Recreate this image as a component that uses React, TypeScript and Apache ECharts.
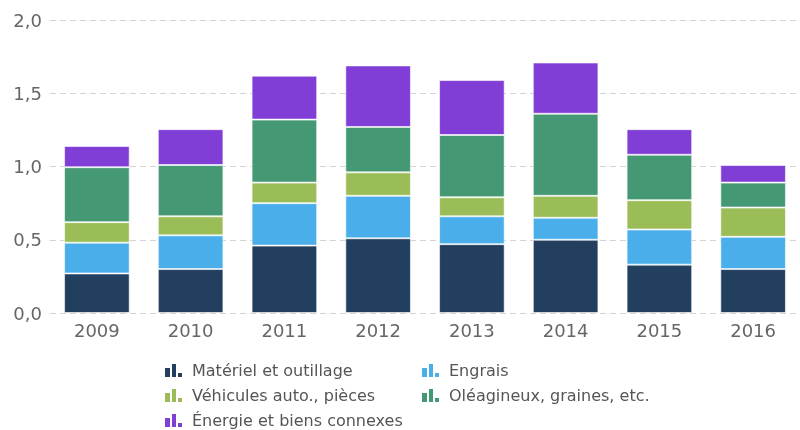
import React, { useEffect, useRef } from "react";
import * as echarts from "echarts";

const years = ["2009", "2010", "2011", "2012", "2013", "2014", "2015", "2016"];
const materiel = [0.27, 0.3, 0.46, 0.51, 0.47, 0.5, 0.33, 0.3];
const engrais = [0.21, 0.23, 0.29, 0.29, 0.19, 0.15, 0.24, 0.22];
const vehicules = [0.14, 0.13, 0.14, 0.16, 0.13, 0.15, 0.2, 0.2];
const oleagineux = [0.375, 0.35, 0.43, 0.31, 0.425, 0.56, 0.31, 0.17];
const energie = [0.145, 0.245, 0.3, 0.42, 0.375, 0.35, 0.175, 0.12];

const seriesNames = [
  "Matériel et outillage",
  "Engrais",
  "Véhicules auto., pièces",
  "Oléagineux, graines, etc.",
  "Énergie et biens connexes",
];
const seriesData = [materiel, engrais, vehicules, oleagineux, energie];
const colors = ["#233f5f", "#49aeea", "#9bbd57", "#449874", "#813ed6"];

const icon = "path://M0,4L5,4L5,13L0,13Z M7,0L11,0L11,13L7,13Z M13,9L17,9L17,13L13,13Z";
const FONT = "DejaVu Sans";

export default function App() {
  const ref = useRef<HTMLDivElement>(null);
  useEffect(() => {
    const chart = echarts.init(ref.current!, null, { renderer: "svg" });
    const legendCommon = {
      orient: "vertical" as const,
      top: 361,
      height: 69,
      itemWidth: 17,
      itemHeight: 13,
      itemGap: 6,
      icon,
      itemStyle: { borderWidth: 0, borderColor: "transparent" },
      textStyle: { fontFamily: FONT, fontSize: 16, color: "#555", padding: [0, 0, 0, 5], lineHeight: 19 },
      padding: 0,
    };
    chart.setOption({
      animation: false,
      color: colors,
      textStyle: { fontFamily: FONT },
      grid: { left: 50, top: 20, width: 757, bottom: 117, containLabel: false },
      legend: [
        {
          ...legendCommon,
          left: 165,
          data: [seriesNames[0], seriesNames[2], seriesNames[4]],
        },
        {
          ...legendCommon,
          left: 422,
          data: [seriesNames[1], seriesNames[3]],
        },
      ],
      xAxis: {
        type: "category",
        data: years,
        axisLine: { show: false },
        axisTick: { show: false },
        axisLabel: { fontFamily: FONT, fontSize: 18, color: "#666", margin: 8 },
      },
      yAxis: {
        type: "value",
        min: 0,
        max: 2,
        interval: 0.5,
        axisLine: { show: false },
        axisTick: { show: false },
        axisLabel: {
          fontFamily: FONT,
          fontSize: 18,
          color: "#666",
          margin: 8,
          formatter: (v: number) => v.toFixed(1).replace(".", ","),
        },
        splitLine: { lineStyle: { color: "#d4d4d4", type: [6, 4], width: 1 } },
      },
      series: seriesNames.map((name, i) => ({
        name,
        type: "bar",
        stack: "total",
        barCategoryGap: "30%",
        data: seriesData[i],
        itemStyle: { color: colors[i], borderColor: "rgba(255,255,255,0.6)", borderWidth: 1 },
      })),
    });
    return () => chart.dispose();
  }, []);
  return (
    <div
      ref={ref}
      style={{ position: "fixed", left: 0, top: 0, width: 800, height: 430, overflow: "hidden" }}
    />
  );
}
